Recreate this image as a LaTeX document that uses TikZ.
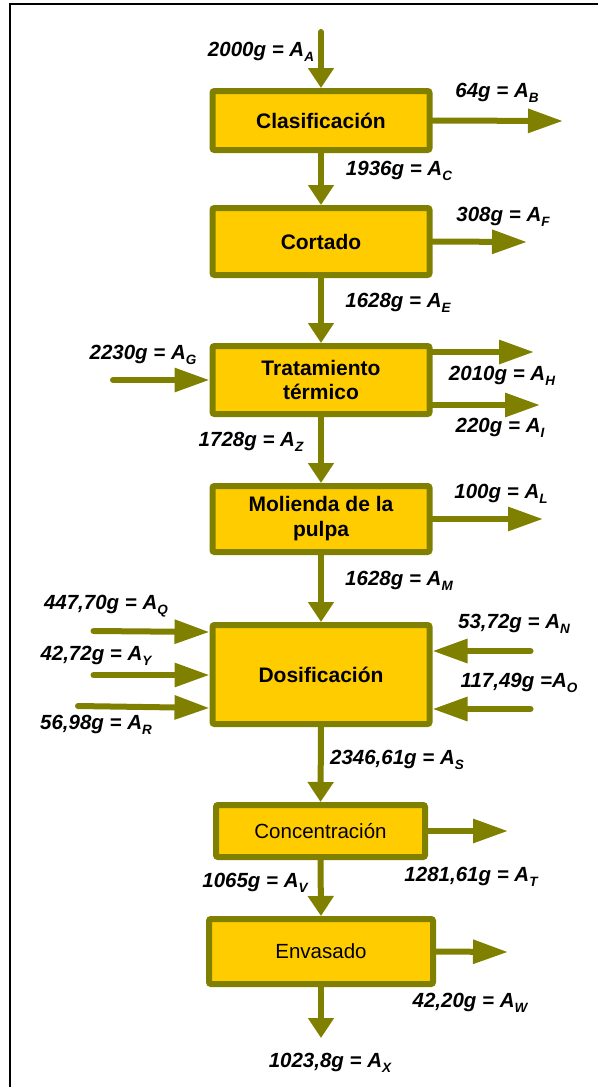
\documentclass[tikz,border=0pt]{standalone}
\usepackage{fontspec}
\setmainfont{Liberation Sans}
\usetikzlibrary{arrows.meta}
\definecolor{olivec}{HTML}{808000}
\definecolor{boxfill}{HTML}{FFCC00}
\newcommand\sbs[1]{\raisebox{-0.26em}{\fontsize{13.5}{13.5}\selectfont #1}}
\begin{document}
\begin{tikzpicture}[x=1pt,y=-1pt,
  procbox/.style={draw=olivec,fill=boxfill,line width=6pt,rounded corners=2pt,
    minimum width=217pt,inner sep=0pt,align=center,
    font=\fontsize{21}{25}\selectfont\bfseries},
  plainbox/.style={procbox,font=\fontsize{20.5}{25}\selectfont},
  lbl/.style={inner sep=0pt,font=\fontsize{20.5}{24}\selectfont\bfseries\itshape},
  flowv/.style={draw=olivec,line width=6pt,line cap=round,-{Triangle[length=20pt,width=25pt]}},
  flowh/.style={draw=olivec,line width=6pt,line cap=round,-{Triangle[length=35pt,width=23pt]}}
]
\useasboundingbox (0,0) rectangle (598,1087);
\draw[line width=2pt] (598,4) -- (10,4) -- (10,1087);

% boxes
\node[procbox,minimum height=59pt] (clas) at (321,120.5) {Clasificación};
\node[procbox,minimum height=67pt] (cort) at (321,241.5) {Cortado};
\node[procbox,minimum height=68pt] (trat) at (321,380) {Tratamiento\\[-1pt]térmico};
\node[procbox,minimum height=66pt] (mol) at (321,519) {Molienda de la\\[0pt]pulpa};
\node[procbox,minimum height=99pt] (dos) at (321,674.5) {Dosificación};
\node[plainbox,minimum height=52pt,minimum width=209pt] (conc) at (320.5,831) {Concentración};
\node[plainbox,minimum height=65pt,minimum width=224pt] (env) at (321,951.5) {Envasado};

% free ends
\coordinate (aA) at (321,32);
\coordinate (aB) at (563,121);
\coordinate (aF) at (527,242);
\coordinate (aG) at (113,380);
\coordinate (aH) at (534,352);
\coordinate (aI) at (540,405);
\coordinate (aL) at (543,519);
\coordinate (aQ) at (93.5,631);
\coordinate (aQe) at (210,632);
\coordinate (aY) at (93.5,675);
\coordinate (aR) at (78,706);
\coordinate (aRe) at (210,708);
\coordinate (aN) at (530.5,651);
\coordinate (aO) at (530.5,709);
\coordinate (aT) at (508,831);
\coordinate (aW) at (508,952);
\coordinate (aX) at (321,1038);

% connectors
\draw[flowv] (aA) -- (clas.north);
\draw[flowh] (clas.east) -- (aB);
\draw[flowv] (clas.south) -- (cort.north);
\draw[flowh] (cort.east) -- (aF);
\draw[flowv] (cort.south) -- (trat.north);
\draw[flowh] (aG) -- (trat.west);
\draw[flowh] (aH -| trat.east) -- (aH);
\draw[flowh] (aI -| trat.east) -- (aI);
\draw[flowv] (trat.south) -- (mol.north);
\draw[flowh] (mol.east) -- (aL);
\draw[flowv] (mol.south) -- (dos.north);
\draw[flowh] (aQ) -- (aQe -| dos.west);
\draw[flowh] (aY) -- (aY -| dos.west);
\draw[flowh] (aR) -- (aRe -| dos.west);
\draw[flowh] (aN) -- (aN -| dos.east);
\draw[flowh] (aO) -- (aO -| dos.east);
\draw[flowv] (dos.south) -- (conc.north);
\draw[flowh] (conc.east) -- (aT);
\draw[flowv] (conc.south) -- (env.north);
\draw[flowh] (env.east) -- (aW);
\draw[flowv] (env.south) -- (aX);

% labels
\node[lbl] (lA) at (261,52) {2000g = A\sbs{A}};
\node[lbl] (lB) at (497,93) {64g = A\sbs{B}};
\node[lbl] (lC) at (399,171) {1936g = A\sbs{C}};
\node[lbl] (lF) at (503,217) {308g = A\sbs{F}};
\node[lbl] (lE) at (398,303) {1628g = A\sbs{E}};
\node[lbl] (lG) at (143,355) {2230g = A\sbs{G}};
\node[lbl] (lH) at (502,376) {2010g = A\sbs{H}};
\node[lbl] (lI) at (500,428) {220g = A\sbs{I}};
\node[lbl] (lZ) at (251,442) {1728g = A\sbs{Z}};
\node[lbl] (lL) at (501,494) {100g = A\sbs{L}};
\node[lbl] (lM) at (399,581) {1628g = A\sbs{M}};
\node[lbl] (lQ) at (106,606) {447,70g = A\sbs{Q}};
\node[lbl] (lY) at (96,656) {42,72g = A\sbs{Y}};
\node[lbl] (lR) at (96,725) {56,98g = A\sbs{R}};
\node[lbl] (lN) at (514,624) {53,72g = A\sbs{N}};
\node[lbl] (lO) at (519,683) {117,49g =A\sbs{O}};
\node[lbl] (lS) at (397,760) {2346,61g = A\sbs{S}};
\node[lbl] (lT) at (471,877) {1281,61g = A\sbs{T}};
\node[lbl] (lV) at (255,883) {1065g = A\sbs{V}};
\node[lbl] (lW) at (470,1003) {42,20g = A\sbs{W}};
\node[lbl] (lX) at (330,1063) {1023,8g = A\sbs{X}};
\end{tikzpicture}
\end{document}
